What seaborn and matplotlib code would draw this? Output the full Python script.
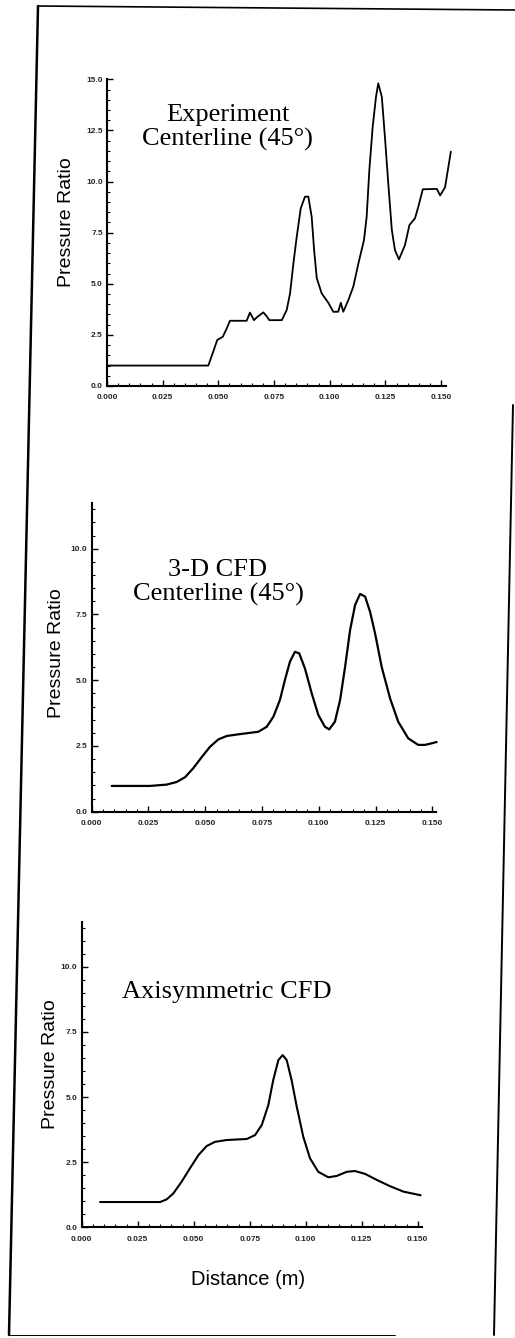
import matplotlib
matplotlib.use("Agg")
import matplotlib.pyplot as plt
from matplotlib.lines import Line2D
from matplotlib.ticker import MultipleLocator, FormatStrFormatter
import seaborn as sns
import pandas as pd

# Distance (m) and pressure ratio along the centerline
exp_x = [0.000, 0.0455, 0.0477, 0.0495, 0.0520, 0.0538, 0.0552, 0.0627, 0.0642,
         0.0660, 0.0675, 0.0702, 0.0717, 0.0729, 0.0785, 0.0807, 0.0822, 0.0837,
         0.0852, 0.0870, 0.0889, 0.0904, 0.0919, 0.0930, 0.0942, 0.0964, 0.0994,
         0.1016, 0.1038, 0.1050, 0.1061, 0.1084, 0.1106, 0.1129, 0.1154, 0.1166,
         0.1178, 0.1193, 0.1208, 0.1218, 0.1234, 0.1249, 0.1263, 0.1279, 0.1293,
         0.1311, 0.1338, 0.1358, 0.1383, 0.1398, 0.1418, 0.1481, 0.1496, 0.1518,
         0.1544]
exp_p = [1.0, 1.0, 1.68, 2.25, 2.41, 2.82, 3.19, 3.19, 3.59,
         3.22, 3.38, 3.60, 3.41, 3.22, 3.22, 3.72, 4.53, 6.00,
         7.30, 8.69, 9.26, 9.26, 8.28, 6.65, 5.27, 4.53, 4.07,
         3.63, 3.63, 4.07, 3.63, 4.21, 4.86, 6.00, 7.14, 8.28,
         10.56, 12.68, 14.15, 14.80, 14.15, 12.03, 9.91, 7.63, 6.65,
         6.19, 6.89, 7.87, 8.20, 8.77, 9.62, 9.64, 9.32, 9.72,
         11.46]

cfd3d_x = [0.0088, 0.0257, 0.0330, 0.0374, 0.0411, 0.0447, 0.0484, 0.0521, 0.0558,
           0.0595, 0.0653, 0.0734, 0.0771, 0.0800, 0.0829, 0.0851, 0.0873, 0.0895,
           0.0914, 0.0939, 0.0969, 0.0998, 0.1027, 0.1046, 0.1071, 0.1094, 0.1116,
           0.1138, 0.1160, 0.1182, 0.1204, 0.1226, 0.1248, 0.1277, 0.1314, 0.1350,
           0.1394, 0.1438, 0.1468, 0.1497, 0.1519]
cfd3d_p = [0.98, 0.98, 1.03, 1.13, 1.31, 1.65, 2.07, 2.47, 2.75,
           2.88, 2.95, 3.04, 3.23, 3.61, 4.25, 5.01, 5.70, 6.08,
           6.02, 5.45, 4.50, 3.68, 3.23, 3.13, 3.42, 4.25, 5.51,
           6.91, 7.86, 8.28, 8.18, 7.60, 6.78, 5.51, 4.31, 3.42,
           2.79, 2.54, 2.54, 2.60, 2.65]

axi_x = [0.0082, 0.0350, 0.0379, 0.0409, 0.0446, 0.0483, 0.0521, 0.0558, 0.0595,
         0.0647, 0.0737, 0.0774, 0.0804, 0.0833, 0.0855, 0.0878, 0.0897, 0.0915,
         0.0937, 0.0960, 0.0989, 0.1019, 0.1056, 0.1101, 0.1138, 0.1183, 0.1220,
         0.1265, 0.1317, 0.1376, 0.1436, 0.1513]
axi_p = [0.97, 0.97, 1.07, 1.30, 1.75, 2.26, 2.77, 3.12, 3.28,
         3.35, 3.39, 3.54, 3.93, 4.69, 5.65, 6.42, 6.61, 6.42,
         5.65, 4.63, 3.48, 2.65, 2.13, 1.92, 1.97, 2.13, 2.16,
         2.05, 1.82, 1.58, 1.37, 1.23]

panel_titles = ["Experiment\nCenterline (45°)", "3-D CFD\nCenterline (45°)", "Axisymmetric CFD"]
y_label = "Pressure Ratio"
x_label = "Distance (m)"

W, H = 515, 1338
sns.set_theme(style="ticks")
plt.rcParams["font.family"] = ["Liberation Sans", "DejaVu Sans"]

fig = plt.figure(figsize=(W / 100, H / 100), dpi=100)
fig.patch.set_facecolor("white")


def px_axes(left, right, top, bottom):
    return fig.add_axes([left / W, 1 - bottom / H, (right - left) / W, (bottom - top) / H])


# axes boxes in pixel units: left, right, top, bottom
specs = [
    dict(box=(107, 445.5, 79.3, 386), xmax=0.152, ymax=15.0, x=exp_x, y=exp_p, lw=1.3,
         title_xy=(0.0541, 12.64), ylab=(-0.119, 0.535)),
    dict(box=(91.7, 435.7, 502.7, 811.7), xmax=0.1515, ymax=11.75, x=cfd3d_x, y=cfd3d_p, lw=1.6,
         title_xy=(0.0556, 8.71), ylab=(-0.102, 0.514)),
    dict(box=(81.7, 422.2, 921.7, 1227.3), xmax=0.152, ymax=11.73, x=axi_x, y=axi_p, lw=1.5,
         title_xy=(0.0649, 9.04), ylab=(-0.093, 0.534)),
]

for i, s in enumerate(specs):
    ax = px_axes(*s["box"])
    ax.set_facecolor("white")
    df = pd.DataFrame({"distance": s["x"], "pressure": s["y"]})
    sns.lineplot(data=df, x="distance", y="pressure", ax=ax, color="black",
                 linewidth=s["lw"], sort=False, estimator=None, clip_on=False)
    ax.set_xlim(0, s["xmax"])
    ax.set_ylim(0, s["ymax"])
    ax.xaxis.set_major_locator(MultipleLocator(0.025))
    ax.xaxis.set_minor_locator(MultipleLocator(0.005))
    ax.yaxis.set_major_locator(MultipleLocator(2.5))
    ax.yaxis.set_minor_locator(MultipleLocator(0.5))
    ax.xaxis.set_major_formatter(FormatStrFormatter("%.3f"))
    ax.yaxis.set_major_formatter(FormatStrFormatter("%.1f"))
    ax.tick_params(which="major", direction="in", length=4, width=1.0, color="black",
                   labelsize=6, pad=3)
    ax.tick_params(axis="x", which="major", pad=6)
    ax.tick_params(which="minor", direction="in", length=2, width=0.8, color="black")
    for lab in ax.get_xticklabels() + ax.get_yticklabels():
        lab.set_fontweight("bold")
    sns.despine(ax=ax)
    for side in ("left", "bottom"):
        ax.spines[side].set_linewidth(1.5)
        ax.spines[side].set_color("black")
    ax.set_ylabel(y_label, fontsize=14, color="black", va="center")
    ax.yaxis.set_label_coords(*s["ylab"])
    if i == 2:
        ax.set_xlabel(x_label, fontsize=14.5, color="black", va="center")
        ax.xaxis.set_label_coords(0.488, -0.172)
    else:
        ax.set_xlabel("")
    tx, ty = s["title_xy"]
    ax.text(tx, ty, panel_titles[i], ha="center", va="center", multialignment="center",
            fontsize=19, family=["Liberation Serif", "DejaVu Serif"], color="black",
            linespacing=1.12)

# page frame around the three panels
frame = [((38, 6), (515, 10), 1.2), ((38, 6), (9, 1335), 1.8),
         ((513, 405), (494, 1335), 1.4), ((9, 1335), (395, 1335), 0.7)]
for (x0, y0), (x1, y1), lw in frame:
    fig.add_artist(Line2D([x0 / W, x1 / W], [1 - y0 / H, 1 - y1 / H],
                          transform=fig.transFigure, color="black", linewidth=lw))

fig.savefig("out.png", dpi=100, facecolor="white")
